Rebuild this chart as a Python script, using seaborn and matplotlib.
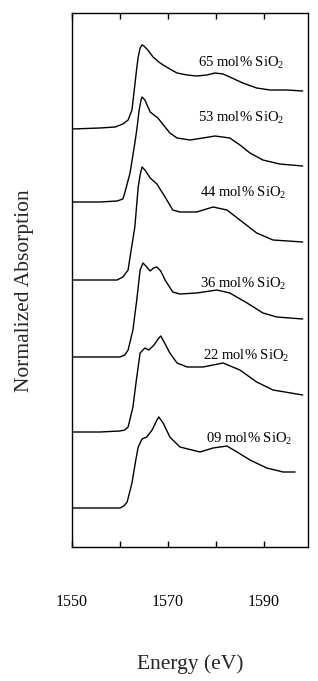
import numpy as np
import pandas as pd
import matplotlib
matplotlib.use("Agg")
import matplotlib.pyplot as plt
import seaborn as sns

# ---- data ----
samples = ["65 mol% SiO$_2$", "53 mol% SiO$_2$", "44 mol% SiO$_2$",
           "36 mol% SiO$_2$", "22 mol% SiO$_2$", "09 mol% SiO$_2$"]

e65 = [1550.0, 1555.8, 1559.0, 1560.6, 1561.7, 1562.5, 1563.1, 1563.5, 1563.8, 1564.2, 1564.6,
       1565.0, 1565.8, 1566.9, 1568.1, 1569.0, 1570.4, 1571.9, 1574.0, 1576.0, 1578.1, 1579.8,
       1581.5, 1582.9, 1585.6, 1588.5, 1591.3, 1594.8, 1598.1]
a65 = [0.00, 0.01, 0.02, 0.05, 0.09, 0.19, 0.44, 0.61, 0.72, 0.81, 0.84,
       0.83, 0.79, 0.72, 0.67, 0.64, 0.60, 0.56, 0.54, 0.53, 0.54, 0.56,
       0.55, 0.52, 0.46, 0.41, 0.39, 0.39, 0.38]

e53 = [1550.0, 1555.8, 1559.4, 1560.6, 1561.0, 1562.1, 1563.1, 1563.5, 1564.0, 1564.4, 1564.6,
       1565.2, 1566.3, 1567.9, 1569.4, 1570.4, 1571.9, 1574.6, 1577.3, 1579.8, 1582.9, 1585.0,
       1587.1, 1589.8, 1593.3, 1598.1]
a53 = [0.00, 0.00, 0.01, 0.03, 0.09, 0.29, 0.59, 0.72, 0.92, 1.02, 1.05,
       1.02, 0.90, 0.84, 0.75, 0.69, 0.64, 0.62, 0.64, 0.66, 0.64, 0.57,
       0.49, 0.42, 0.38, 0.36]

e44 = [1550.0, 1555.8, 1559.4, 1560.6, 1561.7, 1562.1, 1563.1, 1563.8, 1564.2, 1564.6, 1565.2,
       1566.3, 1567.7, 1569.4, 1571.0, 1572.5, 1576.0, 1579.4, 1582.3, 1585.0, 1588.5, 1591.9,
       1598.1]
a44 = [0.00, 0.00, 0.00, 0.03, 0.10, 0.23, 0.53, 0.93, 1.05, 1.13, 1.10,
       1.02, 0.96, 0.83, 0.70, 0.68, 0.68, 0.73, 0.70, 0.60, 0.47, 0.40,
       0.38]

e36 = [1550.0, 1555.8, 1560.0, 1561.0, 1561.7, 1562.7, 1563.5, 1564.2, 1564.8, 1565.4, 1566.3,
       1567.0, 1567.7, 1568.5, 1569.4, 1571.0, 1572.5, 1576.0, 1580.2, 1582.9, 1586.5, 1589.8,
       1592.7, 1598.1]
a36 = [0.00, 0.00, 0.00, 0.02, 0.07, 0.27, 0.57, 0.87, 0.94, 0.91, 0.86,
       0.89, 0.90, 0.86, 0.77, 0.65, 0.63, 0.64, 0.67, 0.64, 0.54, 0.44,
       0.40, 0.38]

e22 = [1550.0, 1555.8, 1560.0, 1561.0, 1561.7, 1562.7, 1563.5, 1564.2, 1565.2, 1566.0, 1567.1,
       1568.1, 1568.5, 1569.2, 1570.4, 1571.9, 1574.0, 1577.3, 1581.5, 1585.0, 1588.5, 1591.9,
       1598.1]
a22 = [0.00, 0.00, 0.01, 0.02, 0.05, 0.25, 0.55, 0.79, 0.84, 0.82, 0.87,
       0.94, 0.96, 0.90, 0.79, 0.69, 0.65, 0.65, 0.69, 0.62, 0.50, 0.42,
       0.37]

e09 = [1550.0, 1555.8, 1560.0, 1560.8, 1561.5, 1562.5, 1563.3, 1563.8, 1564.6, 1565.6, 1566.7,
       1567.7, 1568.1, 1569.0, 1570.4, 1572.5, 1576.7, 1579.4, 1582.3, 1584.4, 1587.1, 1590.6,
       1594.0, 1596.5]
a09 = [0.00, 0.00, 0.00, 0.02, 0.06, 0.25, 0.48, 0.61, 0.69, 0.71, 0.78,
       0.88, 0.91, 0.85, 0.71, 0.61, 0.56, 0.60, 0.62, 0.56, 0.48, 0.40,
       0.36, 0.36]

offsets = [4.18, 3.45, 2.67, 1.90, 1.15, 0.39]   # vertical stacking offsets
energies = [e65, e53, e44, e36, e22, e09]
absorb = [a65, a53, a44, a36, a22, a09]

xticks = [1550, 1560, 1570, 1580, 1590]
xticklabels = ["1550", "", "1570", "", "1590"]

# label anchor positions (data coords)
label_x = [1576.3, 1576.3, 1576.7, 1576.7, 1577.3, 1577.9]
label_y = [4.80, 4.25, 3.50, 2.59, 1.87, 1.04]

# ---- build long table ----
rows = []
for s, e, a, off in zip(samples, energies, absorb, offsets):
    for xi, yi in zip(e, a):
        rows.append({"Energy": xi, "Absorption": yi + off, "Sample": s})
df = pd.DataFrame(rows)

# ---- plot ----
sns.set_theme(style="ticks")
plt.rcParams["font.family"] = ["Liberation Serif", "DejaVu Serif"]
plt.rcParams["mathtext.fontset"] = "custom"
plt.rcParams["mathtext.rm"] = "Liberation Serif"
plt.rcParams["mathtext.it"] = "Liberation Serif:italic"

fig = plt.figure(figsize=(3.18, 6.81), dpi=100)
ax = fig.add_axes([72 / 318, (681 - 547) / 681, (308 - 72) / 318, (547 - 13) / 681])

sns.lineplot(data=df, x="Energy", y="Absorption", hue="Sample",
             palette=["black"] * len(samples), estimator=None, sort=False,
             legend=False, linewidth=1.0, ax=ax)

for s, lx, ly in zip(samples, label_x, label_y):
    ax.text(lx, ly, s, fontsize=10.5, ha="left", va="baseline", color="black")

ax.set_xlim(1550, 1599.2)
ax.set_ylim(0, 5.34)
ax.set_yticks([])
ax.set_xticks(xticks)
ax.set_xticklabels(xticklabels)
ax.tick_params(axis="x", direction="in", top=True, bottom=True, labeltop=False,
               length=4.5, width=1.0, pad=34, labelsize=11.5, colors="black")
for sp in ax.spines.values():
    sp.set_visible(True)
    sp.set_color("black")
    sp.set_linewidth(1.0)

ax.set_xlabel("Energy (eV)", fontsize=15.5)
ax.xaxis.set_label_coords(0.5, (547 - 654) / 534)
ax.set_ylabel("Normalized Absorption", fontsize=15.5)
ax.yaxis.set_label_coords((34 - 72) / 236, (547 - 291) / 534)

fig.savefig("out.png", dpi=100, facecolor="white")
